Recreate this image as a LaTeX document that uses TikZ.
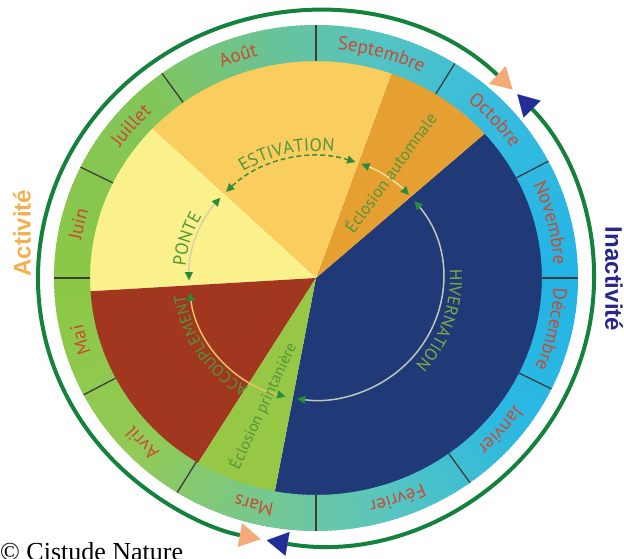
\documentclass[tikz,border=0pt]{standalone}
\usepackage{fontspec}
\setmainfont{PT Sans}
\newfontfamily\actfont{Liberation Sans}
\newfontfamily\serfont{Liberation Serif}
\usetikzlibrary{arrows.meta,decorations.text}

\definecolor{hiv}{RGB}{32,58,120}
\definecolor{ecla}{RGB}{230,160,50}
\definecolor{esti}{RGB}{250,205,95}
\definecolor{pont}{RGB}{250,240,140}
\definecolor{acco}{RGB}{160,55,30}
\definecolor{eclp}{RGB}{150,200,70}
\definecolor{circg}{RGB}{20,130,60}
\definecolor{tipo}{RGB}{245,170,120}
\definecolor{tipb}{RGB}{35,45,150}
\definecolor{actc}{RGB}{245,175,80}
\definecolor{inac}{RGB}{40,40,140}
\definecolor{monc}{RGB}{200,75,50}
\definecolor{phg}{RGB}{85,150,60}
\definecolor{phl}{RGB}{130,170,70}
\definecolor{arrg}{RGB}{40,140,60}
\definecolor{tickc}{RGB}{60,60,60}
\definecolor{hivl}{RGB}{190,200,185}
\definecolor{eclal}{RGB}{240,225,150}
\definecolor{ponl}{RGB}{215,210,170}
\definecolor{accl}{RGB}{230,195,100}
\definecolor{estl}{RGB}{60,140,60}
% ring gradient stops
\definecolor{ga}{RGB}{35,180,230}
\definecolor{gb}{RGB}{55,188,222}
\definecolor{gc}{RGB}{85,195,195}
\definecolor{gd}{RGB}{105,195,150}
\definecolor{ge}{RGB}{130,198,90}
\definecolor{gf}{RGB}{140,200,70}
\definecolor{gg}{RGB}{145,202,85}
\definecolor{gh}{RGB}{120,200,140}
\definecolor{gi}{RGB}{90,198,190}
\definecolor{gj}{RGB}{45,185,225}

\newcommand\monthfmt{\fontsize{19}{19}\selectfont\color{monc}}
\newcommand\curvetext[5]{%
  \pgfmathsetmacro\ctA{#2+45}\pgfmathsetmacro\ctB{#2-45}%
  \path[decorate,decoration={text along path,text align=center,text={|#1|#5}}]
    (\ctA:#3 and #4) arc[start angle=\ctA,end angle=\ctB,x radius=#3,y radius=#4];}
\newcommand\sector[3]{%
  \fill[#1] (0,0) -- (#2:228pt and 219pt) arc[start angle=#2,end angle=#3,x radius=228pt,y radius=219pt] -- cycle;}

\tikzset{
  bigtipO/.style={arrows={Triangle[length=21pt,width=24pt,line width=0.1pt,color=tipo]-Triangle[length=21pt,width=24pt,line width=0.1pt,color=tipo]}},
  bigtipB/.style={arrows={Triangle[length=21pt,width=24pt,line width=0.1pt,color=tipb]-Triangle[length=21pt,width=24pt,line width=0.1pt,color=tipb]}},
  inarr/.style={line width=1.5pt,arrows={Triangle[length=8pt,width=8pt,line width=0.1pt,color=arrg]-Triangle[length=8pt,width=8pt,line width=0.1pt,color=arrg]}},
}

\begin{document}
\begin{tikzpicture}[x=1pt,y=1pt]
\useasboundingbox (-316,-280) rectangle (308,278);
\fill[white] (-316,-280) rectangle (308,278);

% pie sectors
\sector{hiv}{-100.5}{41.7}
\sector{ecla}{41.7}{70.5}
\sector{esti}{70.5}{136.5}
\sector{pont}{136.5}{183.5}
\sector{acco}{183.5}{238.5}
\sector{eclp}{238.5}{259.5}

% month ring with angular gradient
\foreach \sa/\ea/\ca/\cb in {0/45/ga/gb,45/75/gb/gc,75/100/gc/gd,100/130/gd/ge,130/180/ge/gf,180/225/gf/gg,225/255/gg/gh,255/285/gh/gi,285/320/gi/gj,320/360/gj/ga}{
  \pgfmathtruncatemacro\eb{\ea-1}
  \foreach \k in {\sa,...,\eb}{
    \pgfmathtruncatemacro\p{100*(\ea-\k)/(\ea-\sa)}
    \pgfmathsetmacro\kk{\k+1.4}
    \fill[\ca!\p!\cb] (\k:262pt and 253pt) arc[start angle=\k,end angle=\kk,x radius=262pt,y radius=253pt]
      -- (\kk:226pt and 217pt) arc[start angle=\kk,end angle=\k,x radius=226pt,y radius=217pt] -- cycle;
  }
}

% month ticks
\foreach \a in {0,27.5,58,90,126,154,180,207.5,238,270,306,334}
  \draw[tickc,line width=1.3pt] (\a:226pt and 217pt) -- (\a:262pt and 253pt);

% month labels
\curvetext{\monthfmt}{74}{238pt}{229pt}{Septembre}
\curvetext{\monthfmt}{42}{238pt}{229pt}{Octobre}
\curvetext{\monthfmt}{13.5}{238pt}{229pt}{Novembre}
\curvetext{\monthfmt}{-12.5}{238pt}{229pt}{Décembre}
\curvetext{\monthfmt}{-40}{238pt}{229pt}{Janvier}
\curvetext{\monthfmt}{-70}{238pt}{229pt}{Février}
\curvetext{\monthfmt}{-105}{238pt}{229pt}{Mars}
\curvetext{\monthfmt}{224}{238pt}{229pt}{Avril}
\curvetext{\monthfmt}{195}{238pt}{229pt}{Mai}
\curvetext{\monthfmt}{167}{238pt}{229pt}{Juin}
\curvetext{\monthfmt}{140}{238pt}{229pt}{Juillet}
\curvetext{\monthfmt}{109}{238pt}{229pt}{Août}

% outer activity / inactivity arcs
\draw[circg,line width=4pt,bigtipO] (45:278pt and 266.5pt) arc[start angle=45,end angle=258.5,x radius=278pt,y radius=266.5pt];
\draw[circg,line width=4pt,bigtipB] (-100.2:278pt and 266.5pt) arc[start angle=-100.2,end angle=43.6,x radius=278pt,y radius=266.5pt];

% inner cycle arcs
\draw[inarr,hivl] (39:127pt and 122pt) arc[start angle=39,end angle=-98.5,x radius=127pt,y radius=122pt];
\draw[inarr,eclal] (69:127pt and 122pt) arc[start angle=69,end angle=43,x radius=127pt,y radius=122pt];
\draw[inarr,estl,dash pattern=on 5pt off 3pt] (135:127pt and 122pt) arc[start angle=135,end angle=72,x radius=127pt,y radius=122pt];
\draw[inarr,ponl] (181:127pt and 122pt) arc[start angle=181,end angle=139,x radius=127pt,y radius=122pt];
\draw[inarr,accl] (187:127pt and 122pt) arc[start angle=187,end angle=256,x radius=127pt,y radius=122pt];

% phase labels
\curvetext{\fontsize{18}{18}\selectfont\color{phg}}{103}{132pt}{127pt}{ESTIVATION}
\curvetext{\fontsize{18}{18}\selectfont\color{phg}}{163}{131pt}{126pt}{PONTE}
\curvetext{\fontsize{17}{17}\selectfont\color{phl}}{-19}{134pt}{129pt}{HIVERNATION}
\curvetext{\fontsize{16}{16}\selectfont\color{phg}}{213}{132pt}{127pt}{ACCOUPLEMENT}
\node[rotate=54,text=phg,font=\fontsize{17}{17}\selectfont] (eaut) at (74,106) {Éclosion automnale};
\node[rotate=65,text=phg,font=\fontsize{16}{16}\selectfont] (epri) at (-53,-128) {Éclosion printanière};

% side labels
\node[rotate=90,text=actc,font=\actfont\bfseries\fontsize{24}{24}\selectfont] (act) at (-294,45) {Activité};
\node[rotate=-90,text=inac,font=\actfont\bfseries\fontsize{24}{24}\selectfont] (inact) at (298,-1) {Inactivité};
\node[anchor=base west,inner sep=0pt,font=\serfont\fontsize{26}{26}\selectfont] (copy) at (-316,-282) {© Cistude Nature};
\end{tikzpicture}
\end{document}
